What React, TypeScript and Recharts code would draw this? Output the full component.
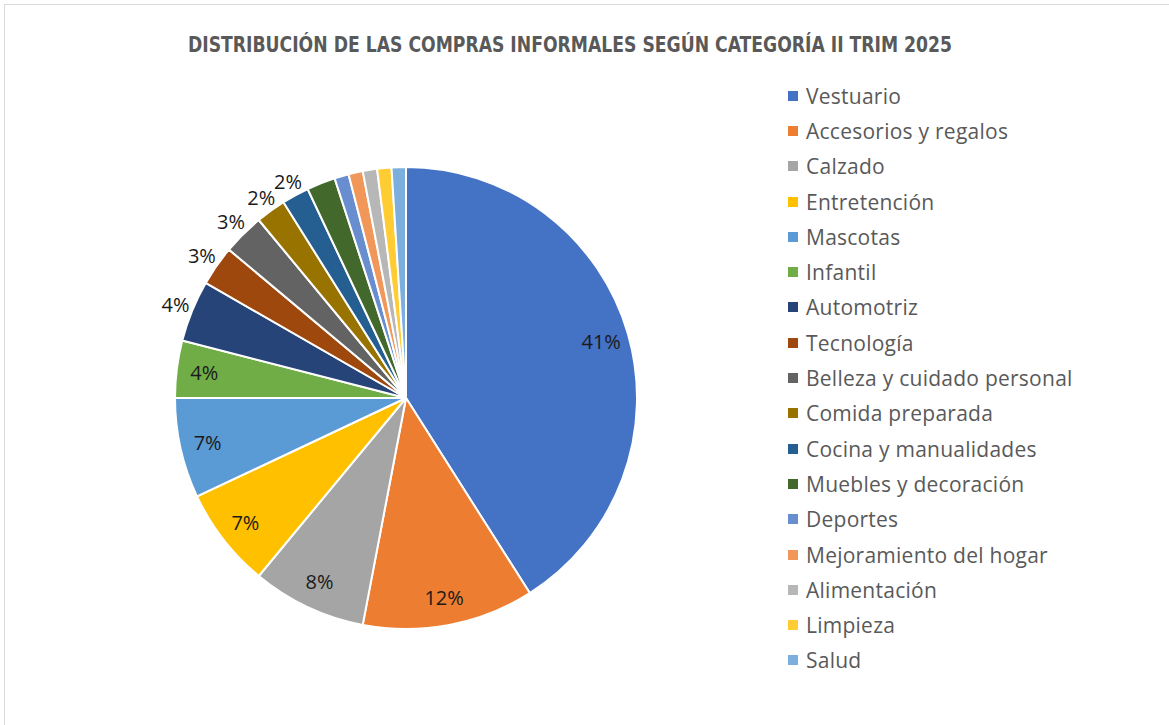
import React from 'react';
import { PieChart, Pie, Cell, Legend } from 'recharts';

const categories = [
  'Vestuario',
  'Accesorios y regalos',
  'Calzado',
  'Entretención',
  'Mascotas',
  'Infantil',
  'Automotriz',
  'Tecnología',
  'Belleza y cuidado personal',
  'Comida preparada',
  'Cocina y manualidades',
  'Muebles y decoración',
  'Deportes',
  'Mejoramiento del hogar',
  'Alimentación',
  'Limpieza',
  'Salud',
];

const shares = [41, 12, 8, 7, 7, 4, 4.3, 2.8, 2.9, 2.1, 1.9, 2.0, 1, 1, 1, 1, 1];

const colors = [
  '#4472C4', '#ED7D31', '#A5A5A5', '#FFC000', '#5B9BD5', '#70AD47',
  '#264478', '#9E480E', '#636363', '#997300', '#255E91', '#43682B',
  '#698ED0', '#F1975A', '#B7B7B7', '#FFCD33', '#7CAFDD',
];

const title = 'DISTRIBUCIÓN DE LAS COMPRAS INFORMALES SEGÚN CATEGORÍA II TRIM 2025';

const labeledCount = 11;
const insideCount = 6;

const data = categories.map((name, i) => ({ name, value: shares[i] }));

const RAD = Math.PI / 180;

const renderLabel = (props: any) => {
  const { cx, cy, midAngle, outerRadius, percent, index } = props;
  if (index >= labeledCount) return null;
  const cos = Math.cos(-midAngle * RAD);
  const sin = Math.sin(-midAngle * RAD);
  let r: number;
  if (index < insideCount) {
    r = outerRadius * 0.88;
  } else {
    const w = 30;
    const h = 16;
    r = outerRadius + 1 + Math.abs(cos) * w / 2 + Math.abs(sin) * h / 2;
  }
  const x = cx + r * cos;
  const y = cy + r * sin;
  return (
    <text
      x={x}
      y={y}
      textAnchor="middle"
      dominantBaseline="central"
      fill="#1a1a1a"
      fontSize={20}
      fontFamily="'Open Sans', sans-serif"
    >
      {`${Math.round(percent * 100)}%`}
    </text>
  );
};

const renderLegend = (props: any) => {
  const items = [...(props.payload || [])].sort(
    (a: any, b: any) => categories.indexOf(a.value) - categories.indexOf(b.value)
  );
  return (
    <div style={{ fontFamily: "'Open Sans', sans-serif" }}>
      {items.map((entry: any, i: number) => (
        <div
          key={i}
          style={{
            height: 35.3,
            display: 'flex',
            alignItems: 'center',
            color: '#595959',
            fontSize: 21,
            letterSpacing: 0.25,
            whiteSpace: 'nowrap',
          }}
        >
          <span
            style={{
              display: 'inline-block',
              width: 10,
              height: 10,
              background: entry.color,
              marginRight: 8,
            }}
          />
          <span>{entry.value}</span>
        </div>
      ))}
    </div>
  );
};

export default function App() {
  return (
    <div
      style={{
        position: 'absolute',
        left: 0,
        top: 0,
        width: 1169,
        height: 725,
        background: '#fff',
        overflow: 'hidden',
      }}
    >
      <div
        style={{
          position: 'absolute',
          left: 4,
          top: 4,
          width: 1200,
          height: 800,
          borderLeft: '1px solid #d9d9d9',
          borderTop: '1px solid #d9d9d9',
        }}
      />
      <svg
        width={1169}
        height={70}
        style={{ position: 'absolute', left: 0, top: 0 }}
      >
        <text
          x={570}
          y={52}
          textAnchor="middle"
          fill="#595959"
          fontSize={21}
          fontWeight="bold"
          fontFamily="'Liberation Sans Narrow', 'DejaVu Sans Condensed', 'Open Sans', sans-serif"
          textLength={764}
          lengthAdjust="spacingAndGlyphs"
        >
          {title}
        </text>
      </svg>
      <div style={{ position: 'absolute', left: 0, top: 0 }}>
        <PieChart width={1169} height={725} margin={{ top: 0, right: 0, bottom: 0, left: 0 }}>
          <Pie
            data={data}
            dataKey="value"
            nameKey="name"
            cx={406}
            cy={398}
            outerRadius={231}
            startAngle={90}
            endAngle={-270}
            stroke="#ffffff"
            strokeWidth={2}
            label={renderLabel}
            labelLine={false}
            isAnimationActive={false}
          >
            {data.map((d, i) => (
              <Cell key={d.name} fill={colors[i]} />
            ))}
          </Pie>
          <Legend
            layout="vertical"
            align="right"
            verticalAlign="top"
            content={renderLegend}
            wrapperStyle={{ position: 'absolute', left: 788, top: 78, width: 370 }}
          />
        </PieChart>
      </div>
    </div>
  );
}
